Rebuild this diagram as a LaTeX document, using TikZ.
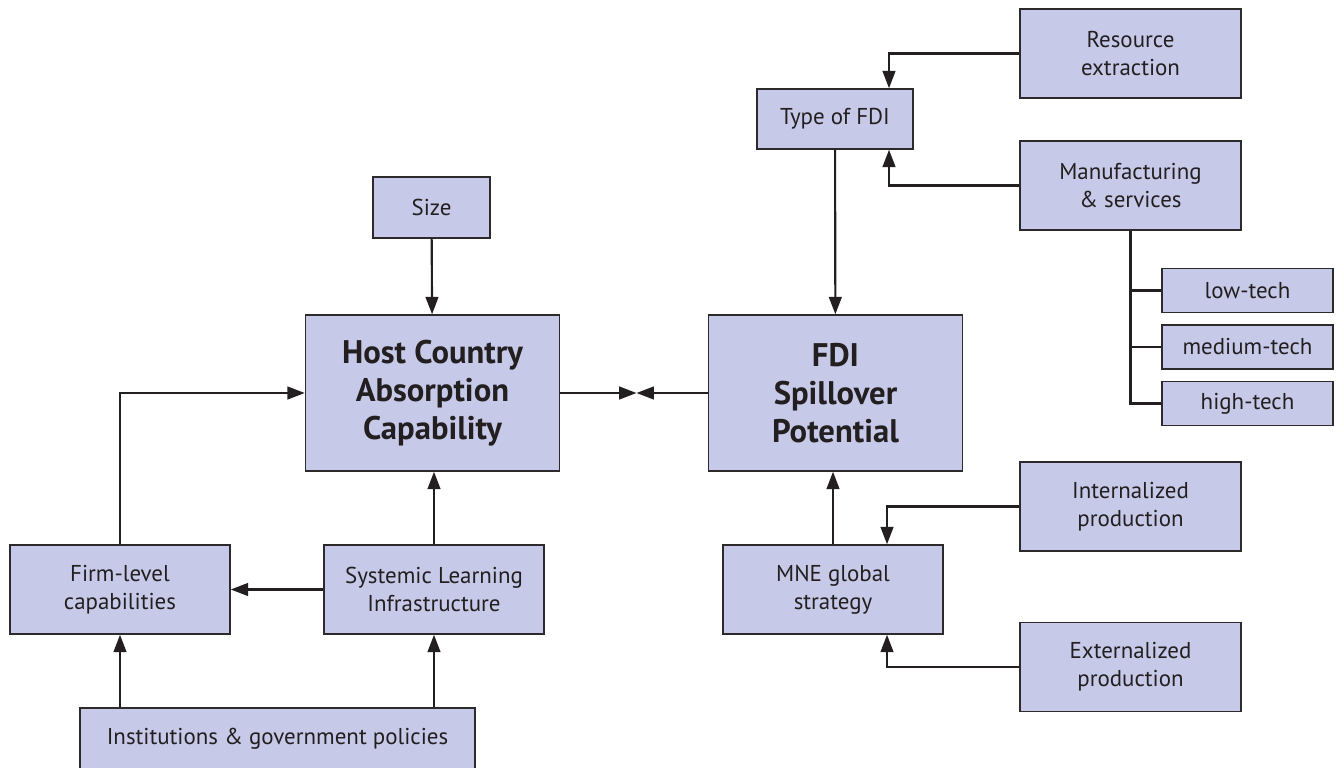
\documentclass[tikz,border=0pt]{standalone}
\usepackage{fontspec}
\setmainfont{PT Sans}
\usepackage{tikz}
\usetikzlibrary{arrows.meta, positioning}
\definecolor{boxfill}{RGB}{198,201,232}
\definecolor{boxline}{RGB}{45,42,44}
\definecolor{ink}{RGB}{35,31,32}
\tikzstyle{block} = [rectangle, draw=boxline, fill=boxfill, line width=1.1pt, text=ink, align=center, inner sep=0pt, font=\fontsize{17.2}{21}\selectfont]
\tikzstyle{wide} = [block, minimum width=165.75pt, minimum height=66.75pt]
\tikzstyle{core} = [block, minimum width=190.5pt, minimum height=117pt, font=\fontsize{24.5}{28.5}\selectfont\bfseries]
\tikzstyle{tech} = [block, minimum width=128.25pt, minimum height=33pt]
\tikzstyle{arrow} = [-{Triangle[length=13pt,width=9.5pt]}, line width=1.6pt, draw=ink]
\tikzstyle{line} = [line width=1.6pt, draw=ink]

\begin{document}
\begin{tikzpicture}[x=0.75pt, y=-0.75pt]
    \useasboundingbox (0, 0) rectangle (1337, 767);

    \node (host) [core] at (432.5, 393) {Host Country\\Absorption\\Capability};
    \node (fdi) [core] at (835.5, 393) {FDI\\Spillover\\Potential};
    \node (size) [block, minimum width=87.75pt, minimum height=45.75pt] at (431.5, 207.5) {Size};
    \node (type) [block, minimum width=117pt, minimum height=45pt] at (835, 119) {Type of FDI};
    \node (resource) [wide] at (1130.5, 53.5) {Resource\\extraction};
    \node (manuf) [wide] at (1130.5, 185.5) {Manufacturing\\\& services};
    \node (low) [tech] at (1247.5, 290.5) {low-tech};
    \node (medium) [tech, below=8.25pt of low] {medium-tech};
    \node (high) [tech, below=8.25pt of medium] {high-tech};
    \node (firm) [wide, minimum width=165pt] at (120, 589.5) {Firm-level\\capabilities};
    \node (systemic) [wide, minimum width=165pt] at (434, 589.5) {Systemic Learning\\Infrastructure};
    \node (mne) [wide, minimum width=165pt] at (833, 589.5) {MNE global\\strategy};
    \node (intern) [wide] at (1130.5, 506.5) {Internalized\\production};
    \node (extern) [wide] at (1130.5, 667) {Externalized\\production};
    \node (inst) [block, minimum width=296.25pt, minimum height=46.5pt] at (277.5, 739) {Institutions \& government policies};
    \coordinate (meet) at (636.5, 393);

    \draw [arrow] (size) -- (host);
    \draw [arrow] (host) -- (meet);
    \draw [arrow] (fdi) -- (meet);
    \draw [arrow] (type) -- (fdi);
    \draw [arrow] (resource) -| ([xshift=40.5pt]type.north);
    \draw [arrow] (manuf) -| ([xshift=40.5pt]type.south);
    \draw [line] (manuf.south) |- (high.west);
    \foreach \t in {low, medium}
        \draw [line] (manuf.south |- \t.west) -- (\t.west);

    \draw [arrow] (firm.north) |- (host.west);
    \draw [arrow] (systemic.north) -- (systemic.north |- host.south);
    \draw [arrow] (systemic) -- (firm);
    \draw [arrow] (firm.south |- inst.north) -- (firm.south);
    \draw [arrow] (systemic.south |- inst.north) -- (systemic.south);

    \draw [arrow] (mne.north) -- (mne.north |- fdi.south);
    \draw [arrow] (intern) -| ([xshift=40.5pt]mne.north);
    \draw [arrow] (extern) -| ([xshift=40.5pt]mne.south);

\end{tikzpicture}
\end{document}
